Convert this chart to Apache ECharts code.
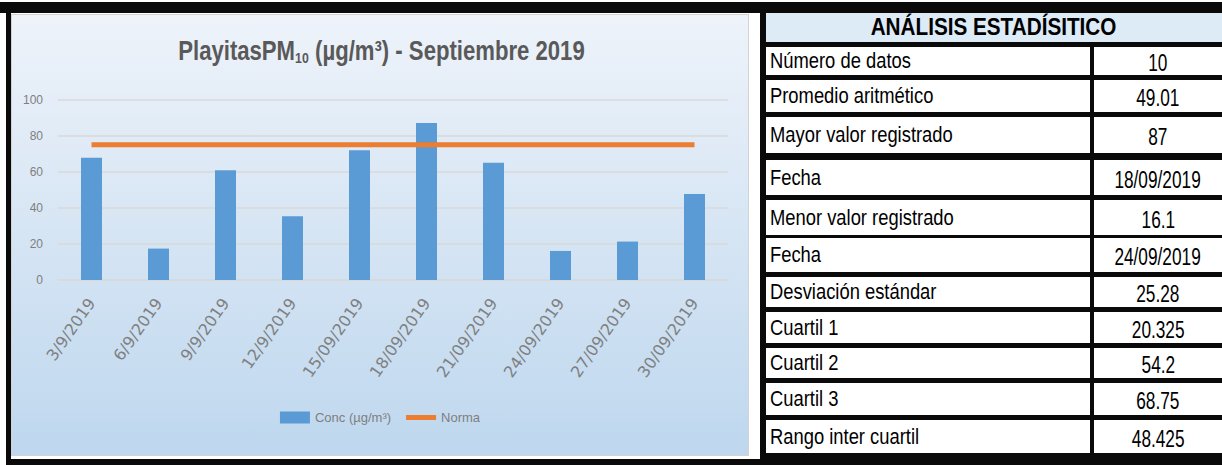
<!DOCTYPE html>
<html>
<head>
<meta charset="utf-8">
<script src="https://cdn.jsdelivr.net/npm/echarts@6/dist/echarts.min.js"></script>
<style>
html,body{margin:0;padding:0;background:#fff;width:1222px;height:465px;overflow:hidden;position:relative}
.blk{position:absolute;background:#0a0a0a}
#panel{position:absolute;left:11px;top:14px;width:736px;height:440px;border:1px solid #d2d2d2;background:linear-gradient(#eef3fa,#bed7ee)}
#chart{width:736px;height:440px}
.cell{position:absolute;background:#fff;font-family:"Liberation Sans",Arial,sans-serif;font-size:22px;color:#000;line-height:1;display:flex;align-items:center;box-sizing:border-box;white-space:nowrap}
.cell span{display:inline-block}
.lab{padding-left:4px}
.lab span{transform:scaleX(0.835);transform-origin:left center}
.val{justify-content:center;padding-top:5px;font-size:23px}
.val span{transform:scaleX(0.75);transform-origin:center center}
.hdr{background:#ddebf7;font-weight:bold;justify-content:center;font-size:23px}
.hdr span{transform:scaleX(0.9);transform-origin:center center}
</style>
</head>
<body>
<div class="blk" style="left:0;top:2px;width:1222px;height:11px"></div>
<div class="blk" style="left:6px;top:2px;width:5px;height:463px"></div>
<div class="blk" style="left:6px;top:459px;width:754px;height:6px"></div>
<div class="blk" id="tbl" style="left:760px;top:2px;width:462px;height:463px"></div>
<div id="panel"><div id="chart"></div></div>
<script>
// ---- data ----
const categories = ['3/9/2019','6/9/2019','9/9/2019','12/9/2019','15/09/2019','18/09/2019','21/09/2019','24/09/2019','27/09/2019','30/09/2019'];
const concValues = [67.7, 17.4, 60.8, 35.3, 71.9, 87, 65.0, 16.1, 21.3, 47.6];
const normaValues = [75, 75, 75, 75, 75, 75, 75, 75, 75, 75];
const seriesNames = ['Conc (µg/m³)', 'Norma'];
const tableTitle = 'ANÁLISIS ESTADÍSITICO';
const statLabels = ['Número de datos','Promedio aritmético','Mayor valor registrado','Fecha','Menor valor registrado','Fecha','Desviación estándar','Cuartil 1','Cuartil 2','Cuartil 3','Rango inter cuartil'];
const statValues = ['10','49.01','87','18/09/2019','16.1','24/09/2019','25.28','20.325','54.2','68.75','48.425'];

// ---- table layout (styles) ----
const rowTops = [47, 80, 117, 160, 200, 238, 277, 312, 348, 383, 420];
const rowBots = [75, 112, 153, 195, 235, 272, 307, 343, 378, 415, 453];
const body = document.body;
function addCell(cls, text, left, top, w, h) {
  const d = document.createElement('div');
  d.className = 'cell ' + cls;
  d.style.left = left + 'px'; d.style.top = top + 'px';
  d.style.width = w + 'px'; d.style.height = h + 'px';
  const s = document.createElement('span');
  s.textContent = text;
  d.appendChild(s);
  body.appendChild(d);
}
addCell('hdr', tableTitle, 766, 13, 456, 29);
statLabels.forEach((t, i) => {
  addCell('lab', t, 766, rowTops[i], 324, rowBots[i] - rowTops[i]);
  addCell('val', statValues[i], 1094, rowTops[i], 128, rowBots[i] - rowTops[i]);
});

// ---- chart ----
const SANS = '"Liberation Sans",Arial,sans-serif';
const chart = echarts.init(document.getElementById('chart'), null, {renderer: 'svg'});
chart.setOption({
  animation: false,
  graphic: [{
    type: 'text', x: 369.5, y: 21, scaleX: 0.82, scaleY: 1,
    style: {
      text: '{a|PlayitasPM}{b|10}{a| (µg/m³) - Septiembre 2019}',
      align: 'center', verticalAlign: 'top',
      rich: {
        a: {fontFamily: SANS, fontWeight: 'bold', fontSize: 27, fill: '#595959', lineHeight: 30},
        b: {fontFamily: SANS, fontWeight: 'bold', fontSize: 15, fill: '#595959', lineHeight: 14, verticalAlign: 'bottom'}
      }
    }
  }],
  legend: {
    top: 391, left: 'center',
    itemWidth: 30, itemHeight: 12, itemGap: 15,
    textStyle: {fontFamily: SANS, fontSize: 13, color: '#7f7f7f'},
    data: [
      {name: seriesNames[0], icon: 'rect'},
      {name: seriesNames[1], icon: 'path://M0 0H30V5H0Z', itemStyle: {color: '#ED7D31'}}
    ]
  },
  grid: {left: 46, right: 20, top: 84.5, bottom: 175},
  xAxis: {
    type: 'category', data: categories,
    axisLine: {lineStyle: {color: '#d9d9d9', width: 1.5}},
    axisTick: {show: false},
    axisLabel: {interval: 0, rotate: 55, margin: 20, color: '#808080', fontSize: 16, fontFamily: 'DejaVu Sans'}
  },
  yAxis: {
    type: 'value', min: 0, max: 100, interval: 20,
    axisLine: {show: false}, axisTick: {show: false},
    splitLine: {lineStyle: {color: '#d9d9d9', width: 1.5}},
    axisLabel: {margin: 15, color: '#7f7f7f', fontSize: 12, fontFamily: SANS}
  },
  series: [
    {type: 'bar', name: seriesNames[0], data: concValues, barWidth: 21, itemStyle: {color: '#5B9BD5'}},
    {type: 'line', name: seriesNames[1], data: normaValues, symbol: 'none', lineStyle: {color: '#ED7D31', width: 5}, itemStyle: {color: '#ED7D31'}}
  ]
});
</script>
</body>
</html>
